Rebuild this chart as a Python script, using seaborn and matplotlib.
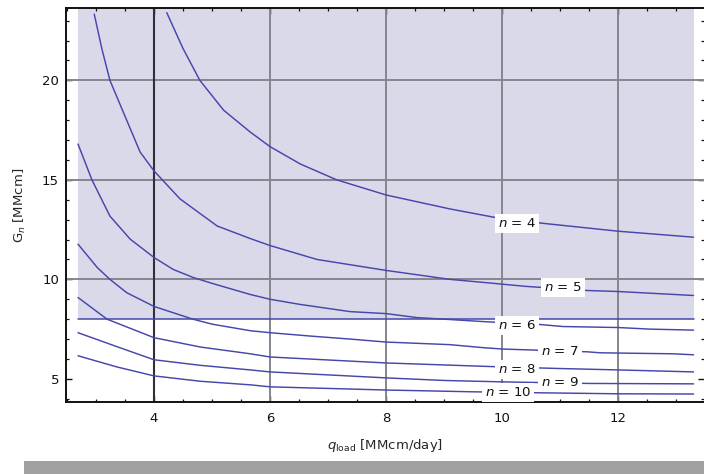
import matplotlib
matplotlib.use("Agg")
import numpy as np
import pandas as pd
import matplotlib.pyplot as plt
import seaborn as sns
from matplotlib.patches import Rectangle
from matplotlib.ticker import MultipleLocator

# Storage requirement G_n versus loading rate q_load for n = 4 ... 10
q_n4 = [4.22, 4.5, 4.79, 5.2, 5.66, 6.0, 6.52, 7.15, 8.0, 9.1, 9.9, 10.66, 12.0, 13.3]
G_n4 = [23.4, 21.6, 20.0, 18.5, 17.4, 16.67, 15.8, 15.0, 14.24, 13.54, 13.1, 12.83, 12.42, 12.12]

q_n5 = [2.97, 3.1, 3.24, 3.5, 3.76, 4.0, 4.45, 5.09, 5.66, 6.0, 6.81, 8.0, 9.1, 9.67, 10.4, 11.47, 12.0, 13.3]
G_n5 = [23.33, 21.6, 20.0, 18.2, 16.4, 15.45, 14.04, 12.68, 12.05, 11.7, 11.0, 10.45, 10.0, 9.85, 9.65, 9.44, 9.39, 9.19]

q_n6 = [2.69, 2.93, 3.24, 3.59, 4.0, 4.33, 4.67, 5.0, 5.66, 6.0, 6.52, 7.38, 8.0, 8.53, 9.0, 9.67, 10.66, 11.05, 12.0, 12.55, 13.3]
G_n6 = [16.8, 15.0, 13.18, 12.02, 11.1, 10.5, 10.1, 9.8, 9.24, 9.0, 8.74, 8.38, 8.28, 8.08, 8.0, 7.88, 7.73, 7.63, 7.58, 7.5, 7.45]

q_n7 = [2.69, 3.02, 3.24, 3.53, 4.0, 4.67, 5.0, 5.66, 6.0, 6.7, 7.38, 8.0, 9.1, 9.67, 10.0, 11.47, 11.69, 12.95, 13.3]
G_n7 = [11.77, 10.6, 10.0, 9.33, 8.64, 8.0, 7.75, 7.42, 7.32, 7.15, 7.0, 6.85, 6.72, 6.57, 6.5, 6.36, 6.31, 6.26, 6.21]

q_n8 = [2.69, 3.19, 4.0, 4.8, 5.66, 6.0, 7.0, 8.0, 9.0, 10.0, 11.0, 12.0, 13.3]
G_n8 = [9.09, 8.0, 7.07, 6.6, 6.26, 6.1, 5.95, 5.8, 5.7, 5.6, 5.52, 5.45, 5.35]

q_n9 = [2.69, 3.36, 4.0, 4.8, 5.66, 6.0, 7.0, 8.0, 9.0, 10.0, 11.5, 13.3]
G_n9 = [7.32, 6.62, 5.96, 5.68, 5.45, 5.35, 5.2, 5.05, 4.92, 4.85, 4.77, 4.75]

q_n10 = [2.69, 3.36, 4.0, 4.8, 5.66, 6.0, 7.0, 8.0, 9.5, 10.66, 12.0, 13.3]
G_n10 = [6.16, 5.6, 5.15, 4.88, 4.7, 4.6, 4.52, 4.44, 4.35, 4.3, 4.25, 4.24]

n_values = [4, 5, 6, 7, 8, 9, 10]
curves_q = [q_n4, q_n5, q_n6, q_n7, q_n8, q_n9, q_n10]
curves_G = [G_n4, G_n5, G_n6, G_n7, G_n8, G_n9, G_n10]

# contour label placement (q, G)
label_q = [10.26, 11.05, 10.26, 11.0, 10.26, 11.0, 10.1]
label_G = [12.8, 9.6, 7.68, 6.36, 5.45, 4.8, 4.3]

# feasible region: G above the threshold
G_threshold = 8.0
region_q = [2.69, 13.3]

grid_q = [6, 8, 10, 12]
grid_G = [10, 15, 20]
axis_q = 4

x_ticks = [4, 6, 8, 10, 12]
y_ticks = [5, 10, 15, 20]

line_color = "#4646ab"
shade_color = "#d9d9ea"
grid_color = "#85858f"

rows = []
for n, qs, Gs in zip(n_values, curves_q, curves_G):
    for q, G in zip(qs, Gs):
        rows.append({"q": q, "G": G, "n": n})
df = pd.DataFrame(rows)

sns.set_theme(style="white")
plt.rcParams['font.family'] = ['DejaVu Sans']
plt.rcParams['mathtext.fontset'] = 'dejavusans'

W, H = 704, 474
fig = plt.figure(figsize=(W / 100, H / 100), dpi=100)
fig.patch.set_facecolor("white")
ax = fig.add_axes([66 / W, (H - 402) / H, (W - 66) / W, (402 - 8) / H])
ax.set_facecolor("white")

xlim = (2.483, 13.48)
ylim = (3.838, 23.636)
ax.set_xlim(*xlim)
ax.set_ylim(*ylim)

# shaded region above threshold
ax.fill_between(region_q, [G_threshold] * 2, [ylim[1]] * 2, color=shade_color, lw=0, zorder=0)

# grid lines
for q in grid_q:
    ax.axvline(q, color=grid_color, lw=1.4, zorder=1)
for G in grid_G:
    ax.axhline(G, color=grid_color, lw=1.4, zorder=1)
ax.axvline(axis_q, color="#30303a", lw=1.5, zorder=1)

# threshold boundary
ax.plot(region_q, [G_threshold] * 2, color=line_color, lw=1.1, zorder=2)

# contour curves
sns.lineplot(data=df, x="q", y="G", units="n", estimator=None, sort=False,
             color=line_color, lw=1.05, ax=ax, zorder=2, legend=False)

for n, lq, lG in zip(n_values, label_q, label_G):
    ax.text(lq, lG, f"$n$ = {n}", fontsize=9.6, color="#111111", ha="center", va="center",
            zorder=4, bbox=dict(boxstyle="square,pad=0.22", fc="white", ec="none"))

ax.set_xticks(x_ticks)
ax.set_yticks(y_ticks)
ax.xaxis.set_minor_locator(MultipleLocator(0.5))
ax.yaxis.set_minor_locator(MultipleLocator(1))
ax.tick_params(which="both", direction="in", top=True, right=True, bottom=True, left=True,
               colors="#111111", labelsize=9.5)
ax.tick_params(which="major", length=4.5, width=1.0, pad=7)
ax.tick_params(which="minor", length=2.2, width=0.9)
ax.tick_params(axis="x", labeltop=False)
ax.tick_params(axis="y", labelright=False, pad=5)

for side in ["left", "bottom", "top"]:
    ax.spines[side].set_color("#111111")
    ax.spines[side].set_linewidth(1.4)
ax.spines["right"].set_visible(False)

ax.set_xlabel(r"$q_{\mathrm{load}}$ [MMcm/day]", fontsize=9.5, labelpad=9)
ax.set_ylabel(r"G$_{n}$ [MMcm]", fontsize=9.5, labelpad=10)

fig.add_artist(Rectangle((24 / W, 0), (W - 24) / W, 13 / H, transform=fig.transFigure,
                         facecolor="#a0a0a0", edgecolor="none"))

fig.savefig("out.png", dpi=100)
